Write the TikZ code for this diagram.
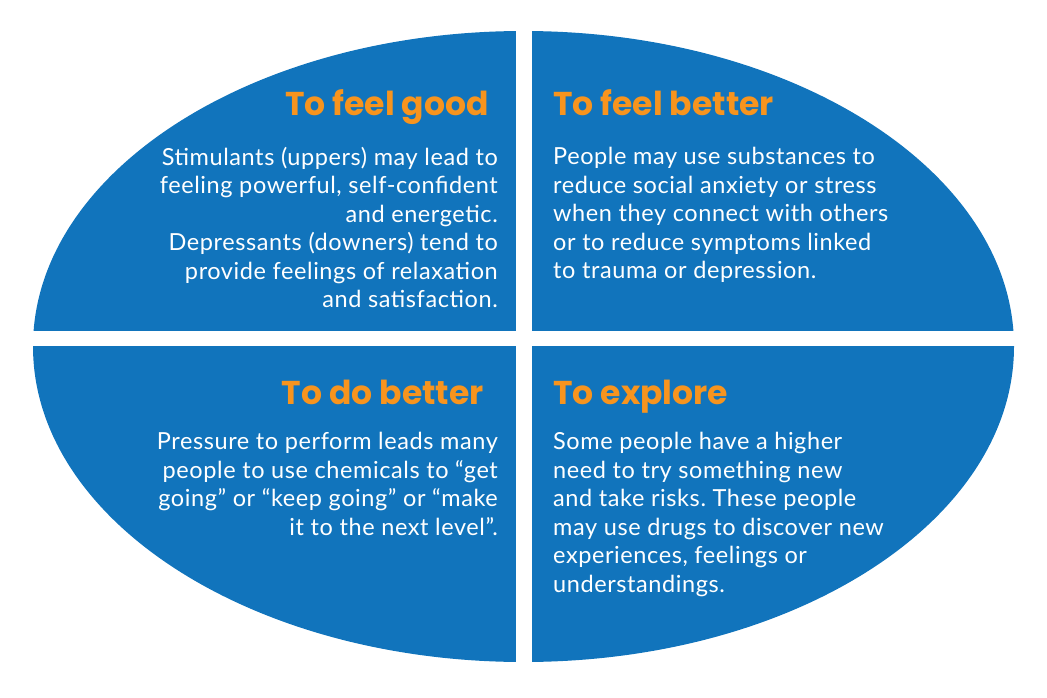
\documentclass[tikz,border=0pt]{standalone}
\usepackage{fontspec}
\setmainfont{Lato}[LetterSpace=2.5]
\newfontfamily\titlefont{Poppins}
\definecolor{ovalblue}{HTML}{1174BC}
\definecolor{titleorange}{HTML}{F7941E}
\frenchspacing
\begin{document}
\begin{tikzpicture}[x=1pt,y=-1pt,
  title/.style={inner sep=0pt,text=titleorange,font=\titlefont\bfseries\fontsize{33}{38}\selectfont},
  body/.style={inner sep=0pt,text=white,font=\frenchspacing\fontsize{23.5}{28.5}\selectfont}]
\useasboundingbox (0,0) rectangle (1047,698);
\fill[ovalblue] (523.5,346.5) ellipse [x radius=490.5, y radius=315.5];
\fill[white] (516,0) rectangle (531.5,698);
\fill[white] (0,331) rectangle (1047,346);
\node[title,anchor=base east] (t1) at (489,116) {To feel good};
\node[title,anchor=base west] (t2) at (553,116) {To feel better};
\node[title,anchor=base east] (t3) at (484,404) {To do better};
\node[title,anchor=base west] (t4) at (553,404) {To explore};
\node[body,anchor=north east,align=right] (b1) at (498,147) {Stimulants (uppers) may lead to\\feeling powerful, self-confident\\and energetic.\\Depressants (downers) tend to\\provide feelings of relaxation\\and satisfaction.};
\node[body,anchor=north west,align=left] (b2) at (553,147) {People may use substances to\\reduce social anxiety or stress\\when they connect with others\\or to reduce symptoms linked\\to trauma or depression.};
\node[body,anchor=north east,align=right] (b3) at (498,432) {Pressure to perform leads many\\people to use chemicals to ``get\\going'' or ``keep going'' or ``make\\it to the next level''.};
\node[body,anchor=north west,align=left] (b4) at (553,432) {Some people have a higher\\need to try something new\\and take risks. These people\\may use drugs to discover new\\experiences, feelings or\\understandings.};
\end{tikzpicture}
\end{document}
